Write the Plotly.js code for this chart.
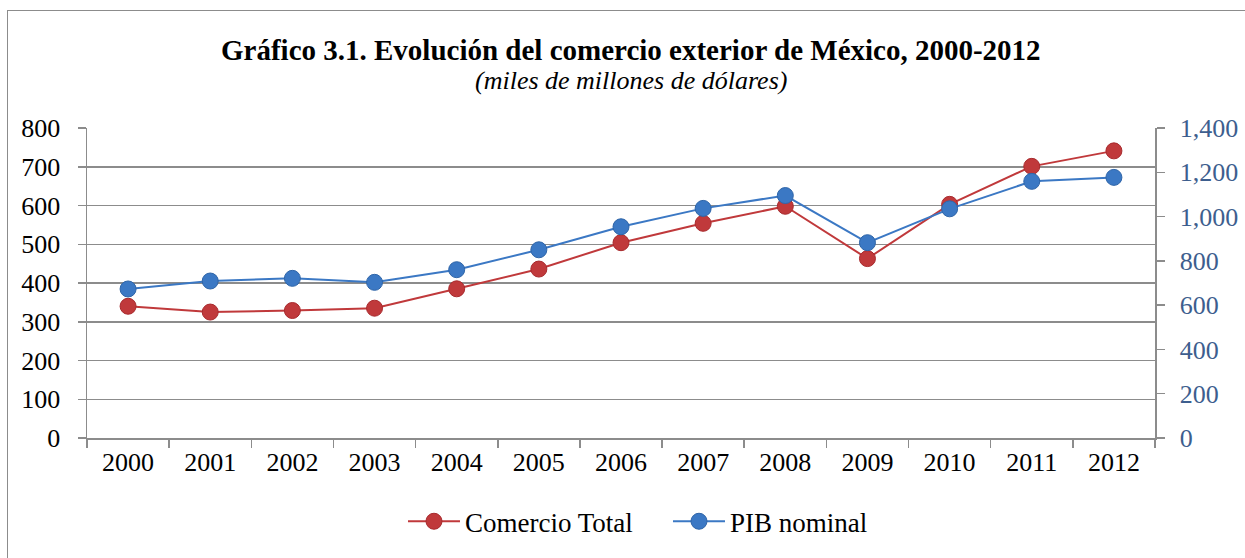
<!DOCTYPE html>
<html>
<head>
<meta charset="utf-8">
<script src="https://cdn.plot.ly/plotly-3.0.1.min.js"></script>
<style>
  html, body { margin: 0; padding: 0; background: #fff; }
  #wrap { position: relative; width: 1245px; height: 558px; overflow: hidden; }
  #chart { width: 1245px; height: 558px; }
  #frame { position: absolute; left: 7px; top: 10px; width: 1300px; height: 600px;
           border-left: 1.5px solid #8c8c8c; border-top: 1.5px solid #8c8c8c; pointer-events: none; }
</style>
</head>
<body>
<div id="wrap">
  <div id="chart"></div>
  <div id="frame"></div>
</div>
<script>
const years = ['2000','2001','2002','2003','2004','2005','2006','2007','2008','2009','2010','2011','2012'];
const comercioTotal = [340, 325, 329, 335, 385, 436, 504, 554, 598, 463, 603, 701, 741];
const pibNominal = [673, 709, 721, 703, 760, 850, 954, 1037, 1095, 882, 1035, 1159, 1177];
const leftTicks = [0, 100, 200, 300, 400, 500, 600, 700, 800];
const rightTicks = [0, 200, 400, 600, 800, 1000, 1200, 1400];
const rightTickText = ['0', '200', '400', '600', '800', '1,000', '1,200', '1,400'];

const serif = 'Liberation Serif, Times New Roman, serif';
const red = '#c0393b';
const blue = '#3b78c4';

const traces = [
  {
    x: years, y: comercioTotal, name: 'Comercio Total', type: 'scatter', mode: 'lines+markers',
    line: {color: red, width: 2},
    marker: {color: red, size: 16, line: {color: '#a82a2d', width: 1}},
    yaxis: 'y'
  },
  {
    x: years, y: pibNominal, name: 'PIB nominal', type: 'scatter', mode: 'lines+markers',
    line: {color: blue, width: 2},
    marker: {color: blue, size: 16, line: {color: '#2f65a8', width: 1}},
    yaxis: 'y2'
  }
];

const layout = {
  width: 1245, height: 558,
  margin: {l: 87, r: 90, t: 128, b: 118},
  paper_bgcolor: '#ffffff', plot_bgcolor: '#ffffff',
  font: {family: serif, size: 26, color: '#000'},
  showlegend: true,
  legend: {orientation: 'h', x: 0.544, xanchor: 'center', y: -0.27, yanchor: 'middle',
           font: {family: serif, size: 27, color: '#000'}, traceorder: 'normal',
           itemwidth: 52, entrywidth: 198},
  xaxis: {
    type: 'category', tickson: 'boundaries', ticks: 'outside', ticklen: 8, tickcolor: '#8c8c8c', tickwidth: 1.5,
    showline: true, linecolor: '#8c8c8c', linewidth: 1.5, showgrid: false, zeroline: false,
    tickfont: {family: serif, size: 26, color: '#000'}, range: [-0.5, 12.5], fixedrange: true
  },
  yaxis: {
    range: [0, 800], tickvals: leftTicks, ticktext: leftTicks.map(String),
    ticks: 'outside', ticklen: 8, tickcolor: '#8c8c8c', tickwidth: 1.5,
    showline: true, linecolor: '#8c8c8c', linewidth: 1.5,
    showgrid: true, gridcolor: '#8c8c8c', gridwidth: 1.5, zeroline: false,
    tickfont: {family: serif, size: 26, color: '#000'}, ticklabelstandoff: 12
  },
  yaxis2: {
    range: [0, 1400], tickvals: rightTicks, ticktext: rightTickText, overlaying: 'y', side: 'right',
    ticks: 'outside', ticklen: 8, tickcolor: '#8c8c8c', tickwidth: 1.5,
    showline: true, linecolor: '#8c8c8c', linewidth: 1.5, showgrid: false, zeroline: false,
    tickfont: {family: serif, size: 26, color: '#3d5e8e'}, ticklabelstandoff: 10
  },
  annotations: [
    {text: '<b>Gráfico 3.1. Evolución del comercio exterior de México, 2000-2012</b>',
     xref: 'paper', yref: 'paper', x: 0.509, y: (440 - 49) / 312, xanchor: 'center', yanchor: 'middle',
     showarrow: false, font: {family: serif, size: 29, color: '#000'}},
    {text: '<i>(miles de millones de dólares)</i>',
     xref: 'paper', yref: 'paper', x: 0.509, y: (440 - 80) / 312, xanchor: 'center', yanchor: 'middle',
     showarrow: false, font: {family: serif, size: 26, color: '#000'}}
  ]
};

Plotly.newPlot('chart', traces, layout, {displayModeBar: false, staticPlot: true});
</script>
</body>
</html>
